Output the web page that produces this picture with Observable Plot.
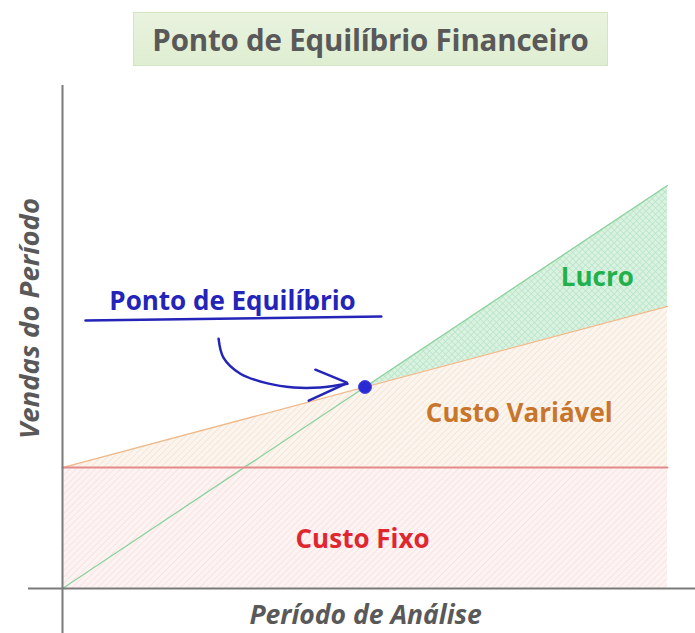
<!DOCTYPE html>
<html>
<head>
<meta charset="utf-8">
<script src="https://cdn.jsdelivr.net/npm/d3@7"></script>
<script src="https://cdn.jsdelivr.net/npm/@observablehq/plot@0.6"></script>
<style>
  html, body { margin: 0; padding: 0; background: #fff; }
  #wrap { width: 695px; height: 633px; position: relative; font-family: "Open Sans", sans-serif; }
  #head { height: 80px; position: relative; }
  #title {
    position: absolute; left: 133px; top: 12px; width: 473px; height: 52px;
    background: linear-gradient(to bottom, #e9f3df, #dfeed1);
    border: 1px solid #d3e6c3;
    color: #595959; font-weight: 700; font-size: 29.5px; letter-spacing: -0.2px;
    display: flex; align-items: center; justify-content: center;
  }
  #chart svg { display: block; }
</style>
</head>
<body>
<div id="wrap">
  <div id="head"><div id="title">Ponto de Equilíbrio Financeiro</div></div>
  <div id="chart"></div>
</div>
<script>
// ---- data (abstract units) ----
const periodo    = [0, 100];
const vendas     = [0, 100];
const custoFixo  = [30, 30];
const custoTotal = [30, 70];

// region labels
const labelTexts = ["Lucro", "Custo Variável", "Custo Fixo", "Ponto de Equilíbrio"];
const labelX     = [88.4, 75.5, 49.6, 28.1];
const labelY     = [77.2, 43.4, 12.2, 71.2];
const labelColor = ["#22b04b", "#c8762c", "#e0262f", "#2424b8"];

// annotation: underline, curved arrow and arrow head
const underlineX = [3.8, 52.7];
const underlineY = [66.5, 67.5];
const arrowX = [25.8, 26.6, 29.4, 33.9, 38.2, 42.6, 47.1];
const arrowY = [62.0, 57.3, 53.3, 50.9, 49.9, 49.9, 50.8];
const headX  = [41.8, 47.1, 40.7];
const headY  = [54.3, 51.0, 46.6];

// axis titles
const axisTitles = ["Vendas do Período", "Período de Análise"];

// ---- tables ----
const rows = periodo.map((p, i) => ({p, vendas: vendas[i], fixo: custoFixo[i], total: custoTotal[i]}));
const a = rows[0], b = rows[rows.length - 1];
const sV = (b.vendas - a.vendas) / (b.p - a.p);
const sT = (b.total - a.total) / (b.p - a.p);
const beX = a.p + (a.total - a.vendas) / (sV - sT);
const beY = a.vendas + sV * (beX - a.p);
const lucro = [{p: beX, lo: beY, hi: beY}, {p: b.p, lo: b.total, hi: b.vendas}];
const labels = labelTexts.map((t, i) => ({t, x: labelX[i], y: labelY[i], c: labelColor[i]}));
const underline = underlineX.map((x, i) => ({x, y: underlineY[i]}));
const arrow = arrowX.map((x, i) => ({x, y: arrowY[i]}));
const head = headX.map((x, i) => ({x, y: headY[i]}));

const blue = "#2424b8";

const svg = Plot.plot({
  width: 695, height: 553,
  marginLeft: 28, marginRight: 0, marginTop: 5, marginBottom: 0,
  x: {domain: [0, 100], range: [62, 667], axis: null},
  y: {domain: [0, 100], range: [508, 105], axis: null},
  style: {background: "transparent", fontFamily: "'Open Sans', sans-serif", overflow: "visible"},
  marks: [
    Plot.areaY(rows, {x: "p", y1: 0, y2: "fixo", fill: "url(#hFixo)"}),
    Plot.areaY(rows, {x: "p", y1: "fixo", y2: "total", fill: "url(#hVar)"}),
    Plot.areaY(lucro, {x: "p", y1: "lo", y2: "hi", fill: "url(#hLucro)"}),
    Plot.line(rows, {x: "p", y: "vendas", stroke: "#8fd19f", strokeWidth: 1.3}),
    Plot.line(rows, {x: "p", y: "total", stroke: "#f0b98a", strokeWidth: 1.3}),
    Plot.line(rows, {x: "p", y: "fixo", stroke: "#e38a8a", strokeWidth: 2}),
    Plot.ruleX([0], {stroke: "#7a7a7a", strokeWidth: 2}),
    Plot.ruleY([0], {stroke: "#7a7a7a", strokeWidth: 2}),
    Plot.line(underline, {x: "x", y: "y", stroke: blue, strokeWidth: 2.5}),
    Plot.line(arrow, {x: "x", y: "y", curve: "catmull-rom", stroke: blue, strokeWidth: 2.5, strokeLinecap: "round"}),
    Plot.line(head, {x: "x", y: "y", stroke: blue, strokeWidth: 2.5, strokeLinecap: "round", strokeLinejoin: "miter"}),
    Plot.dot([{x: beX, y: beY}], {x: "x", y: "y", r: 6.5, fill: "#2a2ad2", stroke: "#4a4ae0", strokeWidth: 1}),
    Plot.text(labels, {x: "x", y: "y", text: "t", fill: "c", fontSize: 26, fontWeight: 700, letterSpacing: -0.2}),
    Plot.text([axisTitles[0]], {x: -5.3, y: 67, text: d => d, rotate: -90, fontSize: 27.5, fontWeight: 700, fontStyle: "italic", fill: "#595959"}),
    Plot.text([axisTitles[1]], {x: 50.1, y: -6.6, text: d => d, fontSize: 26.5, fontWeight: 700, fontStyle: "italic", fill: "#595959"})
  ]
});

// hatch patterns
const NS = "http://www.w3.org/2000/svg";
const defs = document.createElementNS(NS, "defs");
function pattern(id, bg, line, cross) {
  const p = document.createElementNS(NS, "pattern");
  p.setAttribute("id", id);
  p.setAttribute("patternUnits", "userSpaceOnUse");
  p.setAttribute("width", 4.5); p.setAttribute("height", 4.5);
  p.setAttribute("patternTransform", "rotate(45)");
  const r = document.createElementNS(NS, "rect");
  r.setAttribute("width", 4.5); r.setAttribute("height", 4.5); r.setAttribute("fill", bg);
  p.appendChild(r);
  const l = document.createElementNS(NS, "line");
  l.setAttribute("x1", 0); l.setAttribute("y1", 0); l.setAttribute("x2", 0); l.setAttribute("y2", 4.5);
  l.setAttribute("stroke", line); l.setAttribute("stroke-width", 1.4);
  p.appendChild(l);
  if (cross) {
    const l2 = document.createElementNS(NS, "line");
    l2.setAttribute("x1", 0); l2.setAttribute("y1", 0); l2.setAttribute("x2", 4.5); l2.setAttribute("y2", 0);
    l2.setAttribute("stroke", line); l2.setAttribute("stroke-width", 1.4);
    p.appendChild(l2);
  }
  defs.appendChild(p);
}
pattern("hFixo", "#fdf3f2", "#f5dfdd", false);
pattern("hVar", "#fcf5ee", "#f1e0cf", false);
pattern("hLucro", "#daf2e2", "#b6e3c4", true);
svg.insertBefore(defs, svg.firstChild);

document.getElementById("chart").appendChild(svg);
</script>
</body>
</html>
